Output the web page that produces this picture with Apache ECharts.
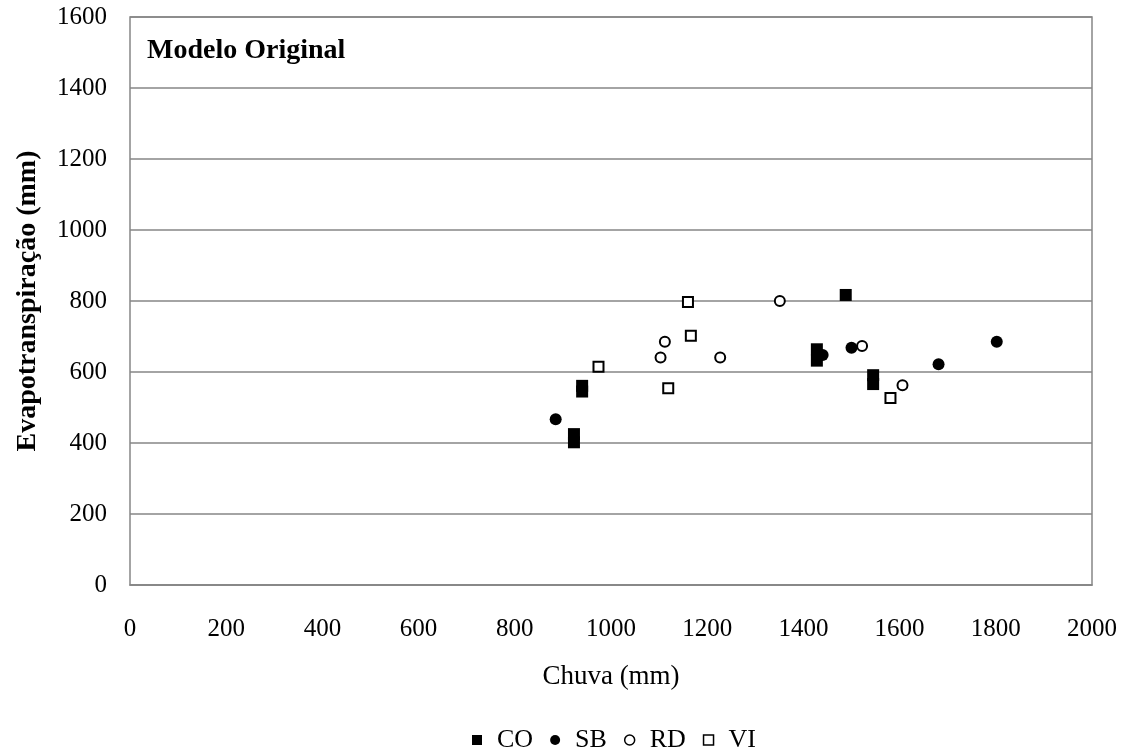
<!DOCTYPE html>
<html>
<head>
<meta charset="utf-8">
<script src="https://cdn.jsdelivr.net/npm/echarts@6/dist/echarts.min.js"></script>
<style>
  html, body { margin: 0; padding: 0; background: #fff; }
  #chart { width: 1129px; height: 755px; }
</style>
</head>
<body>
<div id="chart"></div>
<script>
// Rainfall (Chuva, mm) vs evapotranspiration (mm) per site
const CO = [[923, 425], [923, 402], [940, 561], [940, 545], [1428, 664], [1428, 632], [1488, 817], [1545, 591], [1545, 566]];
const SB = [[885, 467], [1440, 648], [1500, 668], [1681, 622], [1802, 685]];
const RD = [[1103, 641], [1112, 685], [1227, 641], [1351, 800], [1522, 673], [1606, 563]];
const VI = [[974, 615], [1160, 797], [1166, 702], [1119, 554], [1581, 527]];

const xTicks = [0, 200, 400, 600, 800, 1000, 1200, 1400, 1600, 1800, 2000];
const yTicks = [0, 200, 400, 600, 800, 1000, 1200, 1400, 1600];

const FONT = '"Liberation Serif", "Times New Roman", serif';

const chart = echarts.init(document.getElementById('chart'), null, { renderer: 'canvas' });

function series(name, data, symbol, size, filled) {
  return {
    name: name,
    type: 'scatter',
    data: data,
    symbol: symbol,
    symbolSize: size,
    itemStyle: filled
      ? { color: '#000', borderColor: '#000', borderWidth: 0, opacity: 1 }
      : { color: '#fff', borderColor: '#000', borderWidth: 2, opacity: 1 },
    emphasis: { disabled: true }
  };
}

chart.setOption({
  animation: false,
  backgroundColor: '#fff',
  graphic: [{
    type: 'text',
    left: 147,
    top: 37,
    style: { text: 'Modelo Original', font: 'bold 28px ' + FONT, fill: '#000' }
  }],
  grid: { left: 130, right: 37, top: 17, bottom: 170, show: true, borderColor: '#868686', borderWidth: 1.5, containLabel: false },
  xAxis: {
    type: 'value',
    min: xTicks[0],
    max: xTicks[xTicks.length - 1],
    interval: 200,
    name: 'Chuva (mm)',
    nameLocation: 'middle',
    nameGap: 78,
    nameTextStyle: { fontFamily: FONT, fontSize: 27, color: '#000' },
    axisLine: { show: true, lineStyle: { color: '#868686', width: 1.5 } },
    axisTick: { show: false },
    splitLine: { show: false },
    axisLabel: { fontFamily: FONT, fontSize: 25, color: '#000', margin: 32, formatter: v => String(v) }
  },
  yAxis: {
    type: 'value',
    min: yTicks[0],
    max: yTicks[yTicks.length - 1],
    interval: 200,
    name: 'Evapotranspiração (mm)',
    nameLocation: 'middle',
    nameGap: 88,
    nameTextStyle: { fontFamily: FONT, fontSize: 28, fontWeight: 'bold', color: '#000' },
    axisLine: { show: false },
    axisTick: { show: false },
    splitLine: { show: true, lineStyle: { color: '#868686', width: 1.5 } },
    axisLabel: { fontFamily: FONT, fontSize: 25, color: '#000', margin: 23, formatter: v => String(v) }
  },
  legend: {
    top: 727,
    left: 472,
    padding: 0,
    itemWidth: 10,
    itemHeight: 10,
    itemGap: 17,
    textStyle: { fontFamily: FONT, fontSize: 26, color: '#000', padding: [0, 0, 0, 10] },
    data: [
      { name: 'CO', icon: 'rect' },
      { name: 'SB', icon: 'circle' },
      { name: 'RD', icon: 'circle', itemStyle: { borderWidth: 1.5 } },
      { name: 'VI', icon: 'rect', itemStyle: { borderWidth: 1.5 } }
    ]
  },
  series: [
    series('CO', CO, 'rect', 12, true),
    series('SB', SB, 'circle', 12, true),
    series('RD', RD, 'circle', 10, false),
    series('VI', VI, 'rect', 10, false)
  ]
});
</script>
</body>
</html>
